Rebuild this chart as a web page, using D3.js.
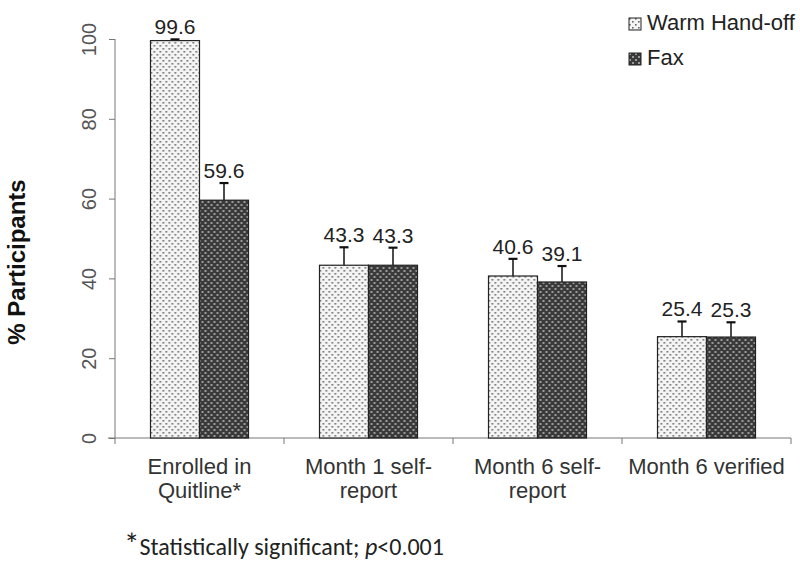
<!DOCTYPE html>
<html><head><meta charset="utf-8">
<script src="https://cdn.jsdelivr.net/npm/d3@7"></script>
<style>body{margin:0;background:#fff}svg{display:block}
text{font-family:'Liberation Sans',Arial,sans-serif}</style>
</head><body>
<svg id="c" width="800" height="567"></svg>
<script>
const categories = [["Enrolled in","Quitline*"],["Month 1 self-","report"],["Month 6 self-","report"],["Month 6 verified"]];
const seriesNames = ["Warm Hand-off","Fax"];
const warmValues = [99.6, 43.3, 40.6, 25.4];
const faxValues = [59.6, 43.3, 39.1, 25.3];
const warmErrors = [0.3, 4.5, 4.3, 3.8];
const faxErrors = [4.3, 4.4, 4.0, 3.7];
const yTicks = [0, 20, 40, 60, 80, 100];

(function(){
const svg = d3.select("#c");
const defs = svg.append("defs");
const p1 = defs.append("pattern").attr("id","pWarm").attr("patternUnits","userSpaceOnUse").attr("width",6).attr("height",6);
p1.append("rect").attr("width",6).attr("height",6).attr("fill","#f4f4f4");
p1.append("rect").attr("x",0).attr("y",0).attr("width",1.6).attr("height",1.6).attr("fill","#666");
p1.append("rect").attr("x",3).attr("y",3).attr("width",1.6).attr("height",1.6).attr("fill","#666");
const p2 = defs.append("pattern").attr("id","pFax").attr("patternUnits","userSpaceOnUse").attr("width",6).attr("height",6);
p2.append("rect").attr("width",6).attr("height",6).attr("fill","#3a3a3a");
p2.append("rect").attr("x",0).attr("y",0).attr("width",2).attr("height",2).attr("fill","#9a9a9a");
p2.append("rect").attr("x",3).attr("y",3).attr("width",2).attr("height",2).attr("fill","#9a9a9a");

const mLeft = 115, mRight = 791, mTop = 39, mBottom = 438;
const x0 = d3.scaleBand().domain(d3.range(categories.length)).range([mLeft, mRight]).paddingInner(0).paddingOuter(0);
const barW = 49;
const x1 = d3.scaleBand().domain(seriesNames).range([0, barW*2]);
const y = d3.scaleLinear().domain([0,100]).range([mBottom, mTop]);

// y axis
const yAxis = svg.append("g").attr("transform",`translate(${mLeft},0)`).call(d3.axisLeft(y).tickValues(yTicks).tickSize(6).tickFormat(d3.format("d")));
yAxis.select(".domain").attr("stroke","#777").attr("d",`M0,${mTop}V${mBottom}`);
yAxis.selectAll(".tick line").attr("stroke","#777");
yAxis.selectAll(".tick text").remove();
yAxis.selectAll(".tick").append("text")
  .attr("transform","translate(-26,0) rotate(-90)")
  .attr("text-anchor","middle").attr("dy","0.35em").attr("fill","#555")
  .attr("font-size",20)
  .text(d=>d);

// x axis
svg.append("line").attr("x1",mLeft-7).attr("x2",mRight).attr("y1",mBottom).attr("y2",mBottom).attr("stroke","#777");
svg.selectAll(".xt").data(d3.range(categories.length+1)).enter().append("line")
  .attr("x1",d=>mLeft + d*x0.bandwidth()).attr("x2",d=>mLeft + d*x0.bandwidth())
  .attr("y1",mBottom).attr("y2",mBottom+6).attr("stroke","#777");

const data = categories.map((c,i)=>({i, vals:[
  {s:seriesNames[0], v:warmValues[i], e:warmErrors[i], fill:"url(#pWarm)"},
  {s:seriesNames[1], v:faxValues[i], e:faxErrors[i], fill:"url(#pFax)"}]}));

const g = svg.selectAll(".cat").data(data).enter().append("g")
  .attr("transform",d=>`translate(${x0(d.i)+x0.bandwidth()/2-barW},0)`);
const b = g.selectAll(".b").data(d=>d.vals).enter().append("g");
b.append("line").attr("x1",d=>x1(d.s)+barW/2).attr("x2",d=>x1(d.s)+barW/2)
  .attr("y1",d=>y(d.v)).attr("y2",d=>y(d.v+d.e)).attr("stroke","#111").attr("stroke-width",1.5);
b.append("line").attr("x1",d=>x1(d.s)+barW/2-4.5).attr("x2",d=>x1(d.s)+barW/2+4.5)
  .attr("y1",d=>y(d.v+d.e)).attr("y2",d=>y(d.v+d.e)).attr("stroke","#111").attr("stroke-width",2.2);
b.append("rect").attr("x",d=>x1(d.s)).attr("width",barW)
  .attr("y",d=>y(d.v)).attr("height",d=>mBottom-y(d.v))
  .attr("fill",d=>d.fill).attr("stroke","#222").attr("stroke-width",1.2);
b.append("text").attr("x",d=>x1(d.s)+barW/2).attr("y",d=>y(d.v+d.e)-5)
  .attr("text-anchor","middle").attr("fill","#222")
  .attr("font-size",21)
  .text(d=>d.v.toFixed(1));

// category labels
const cl = svg.selectAll(".cl").data(categories).enter().append("text")
  .attr("text-anchor","middle").attr("fill","#333")
  .attr("font-size",22);
cl.each(function(d,i){
  const t = d3.select(this);
  d.forEach((line,k)=>t.append("tspan").attr("x",x0(i)+x0.bandwidth()/2).attr("y",474+k*24).text(line));
});

// y title
svg.append("text").attr("transform","translate(25,262) rotate(-90)")
  .attr("text-anchor","middle").attr("font-weight","bold").attr("fill","#111")
  .attr("font-size",24)
  .text("% Participants");

// legend
const lg = svg.selectAll(".lg").data(seriesNames).enter().append("g")
  .attr("transform",(d,i)=>`translate(629,${18+i*35})`);
lg.append("rect").attr("width",12).attr("height",12).attr("fill",(d,i)=>i===0?"url(#pWarm)":"url(#pFax)").attr("stroke","#222");
lg.append("text").attr("x",18).attr("y",12).attr("fill","#222")
  .attr("font-size",22).text(d=>d);

// footnote
const fn = svg.append("text").attr("x",124).attr("y",555).attr("fill","#222")
  .style("font-family","Carlito, Lato, sans-serif").attr("font-size",20);
const ast = fn.append("tspan").attr("font-size",26).text("*");
fn.append("tspan").text("Statistically significant; ");
fn.append("tspan").attr("font-style","italic").text("p");
fn.append("tspan").text("<0.001");
const w = fn.node().getComputedTextLength();
const fs = Math.min(24, 20 * 344 / w);
fn.attr("font-size", fs.toFixed(1));
ast.attr("font-size", (fs*1.3).toFixed(1));
})();
</script>
</body></html>
